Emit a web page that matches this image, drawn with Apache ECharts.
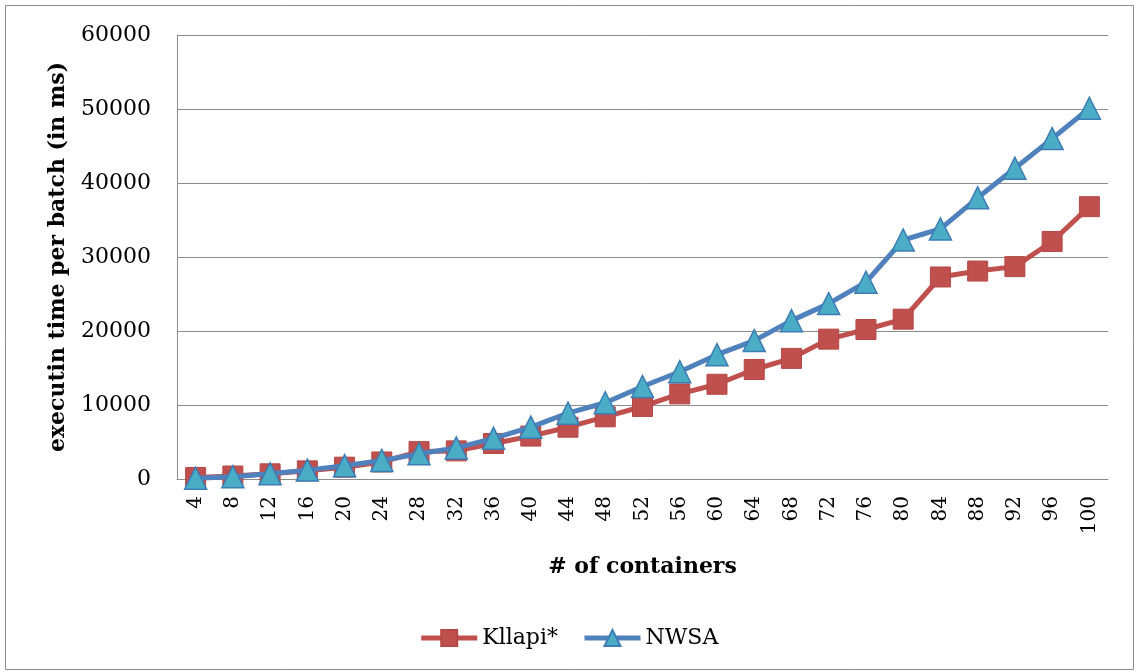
<!DOCTYPE html>
<html><head><meta charset="utf-8">
<script src="https://cdn.jsdelivr.net/npm/echarts@6/dist/echarts.min.js"></script>
<style>html,body{margin:0;padding:0;background:#fff}#c{width:1137px;height:672px}</style>
</head><body><div id="c"></div>
<script>
const categories = ['4','8','12','16','20','24','28','32','36','40','44','48','52','56','60','64','68','72','76','80','84','88','92','96','100'];
const kllapi = [200,400,700,1100,1600,2300,3700,3800,4800,5800,7000,8400,9800,11500,12800,14800,16300,18900,20200,21600,27300,28100,28700,32100,36800];
const nwsa = [100,300,700,1200,1800,2500,3400,4200,5500,7000,8900,10300,12500,14500,16800,18700,21400,23700,26600,32300,33800,38000,42000,46000,50100];
const yTicks = {min:0, max:60000, interval:10000};
const font = '"DejaVu Serif", "Liberation Serif", serif';
const chart = echarts.init(document.getElementById('c'));
chart.setOption({
  animation:false,
  graphic:[{type:'rect',shape:{x:5.5,y:5.5,width:1128,height:664},style:{fill:'none',stroke:'#8c8c8c',lineWidth:1}}],
  grid:{left:177,top:35,right:29,bottom:193},
  legend:{bottom:18,left:'center',itemWidth:56,itemHeight:20,itemGap:24,
    lineStyle:{width:5},
    textStyle:{fontFamily:font,fontSize:22,color:'#000'},
    data:['Kllapi*','NWSA']},
  xAxis:{type:'category',data:categories,boundaryGap:true,
    name:'# of containers',nameLocation:'middle',nameGap:77,
    nameTextStyle:{fontFamily:font,fontSize:22,fontWeight:'bold',color:'#000'},
    axisLine:{lineStyle:{color:'#8c8c8c',width:1}},axisTick:{show:false},
    axisLabel:{rotate:90,fontFamily:font,fontSize:20,color:'#000',margin:17,interval:0}},
  yAxis:{type:'value',min:yTicks.min,max:yTicks.max,interval:yTicks.interval,
    name:'executin time per batch (in ms)',nameLocation:'middle',nameGap:108,
    nameTextStyle:{fontFamily:font,fontSize:22,fontWeight:'bold',color:'#000'},
    axisLine:{show:true,lineStyle:{color:'#8c8c8c'}},axisTick:{show:false},
    axisLabel:{fontFamily:font,fontSize:22,color:'#000',margin:26,formatter:v=>String(v)},
    splitLine:{lineStyle:{color:'#8c8c8c',width:1}}},
  series:[
    {name:'Kllapi*',type:'line',data:kllapi,symbol:'rect',symbolSize:20,
     lineStyle:{color:'#C0504D',width:5},itemStyle:{color:'#C0504D',borderColor:'#B54845',borderWidth:1},z:2},
    {name:'NWSA',type:'line',data:nwsa,symbol:'triangle',symbolSize:22,
     lineStyle:{color:'#4F81BD',width:5},itemStyle:{color:'#4BACC6',borderColor:'#3C7DB5',borderWidth:1.5},z:3}
  ]
});
</script></body></html>
